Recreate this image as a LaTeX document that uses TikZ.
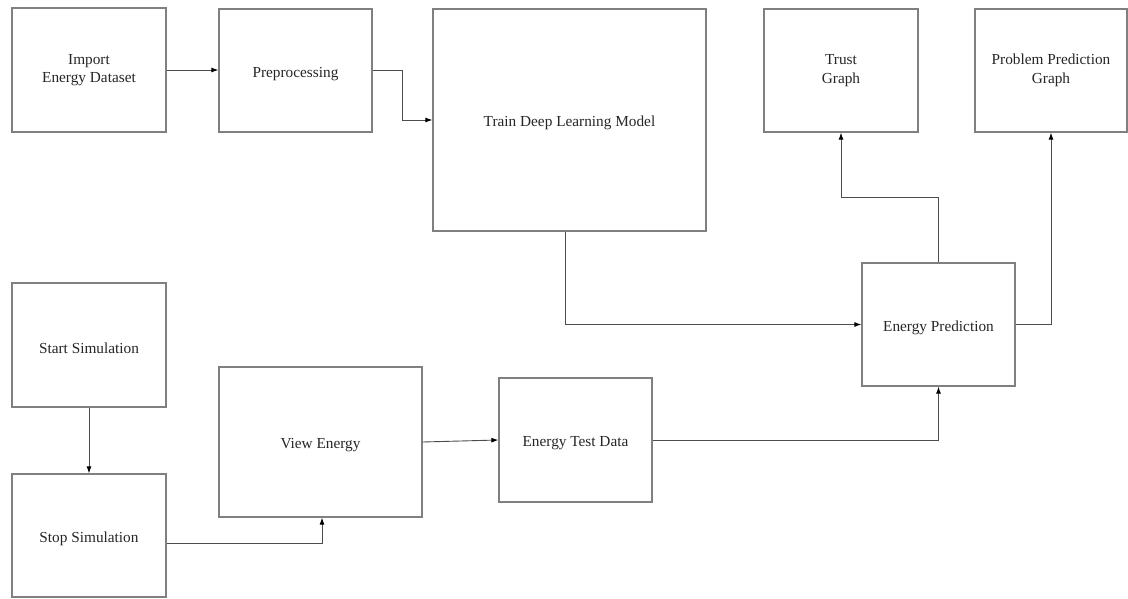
\documentclass[tikz,border=0pt]{standalone}
\usepackage{fontspec}
\setmainfont{Liberation Serif}
\usetikzlibrary{arrows.meta}
\begin{document}
\begin{tikzpicture}[x=1pt,y=-1pt,
  box/.style={draw=black!50, line width=1.3pt, fill=white, inner sep=2pt, align=center,
    text=black!85, font=\fontsize{15.3}{18.5}\selectfont,
    execute at begin node={\rule{0pt}{17pt}}},
  twoline/.style={execute at begin node={\rule{0pt}{23pt}}},
  arr/.style={draw=black!70, line width=0.9pt, -{Latex[length=7pt,width=5pt,fill=black,color=black]}}]
\useasboundingbox[fill=white] (0,0) rectangle (1128,599);
\node[box, twoline, minimum width=154pt, minimum height=124pt] (imp) at (89,70) {Import\\Energy Dataset};
\node[box, minimum width=153pt, minimum height=123pt] (pre) at (295.5,70.5) {Preprocessing};
\node[box, minimum width=273pt, minimum height=222pt] (train) at (569.5,120) {Train Deep Learning Model};
\node[box, twoline, minimum width=154pt, minimum height=123pt] (trust) at (841,70.5) {Trust\\Graph};
\node[box, twoline, minimum width=152pt, minimum height=123pt] (ppg) at (1051,70.5) {Problem Prediction\\Graph};
\node[box, minimum width=153pt, minimum height=123pt] (ep) at (938.5,324.5) {Energy Prediction};
\node[box, minimum width=154pt, minimum height=124pt] (start) at (89,345) {Start Simulation};
\node[box, minimum width=154pt, minimum height=123pt] (stop) at (89,535.5) {Stop Simulation};
\node[box, minimum width=203pt, minimum height=150pt] (view) at (320.5,442) {View Energy};
\node[box, minimum width=153pt, minimum height=124pt] (etd) at (575.5,440) {Energy Test Data};

\draw[arr] (imp.east) -- (imp.east -| pre.west);
\draw[arr] (pre.east) -- ++(30,0) |- (train.west);
\draw[arr] ([xshift=-4.5pt]train.south) |- (ep.west);
\draw[arr] (ep.north) -- ++(0,-65) -| (trust.south);
\draw[arr] (ep.east) -| (ppg.south);
\draw[arr] (start.south) -- (stop.north);
\draw[arr] ([yshift=-7.5pt]stop.east) -| ([xshift=1.5pt]view.south);
\draw[arr] (view.east) -- (etd.west);
\draw[arr] (etd.east) -| (ep.south);
\end{tikzpicture}
\end{document}
